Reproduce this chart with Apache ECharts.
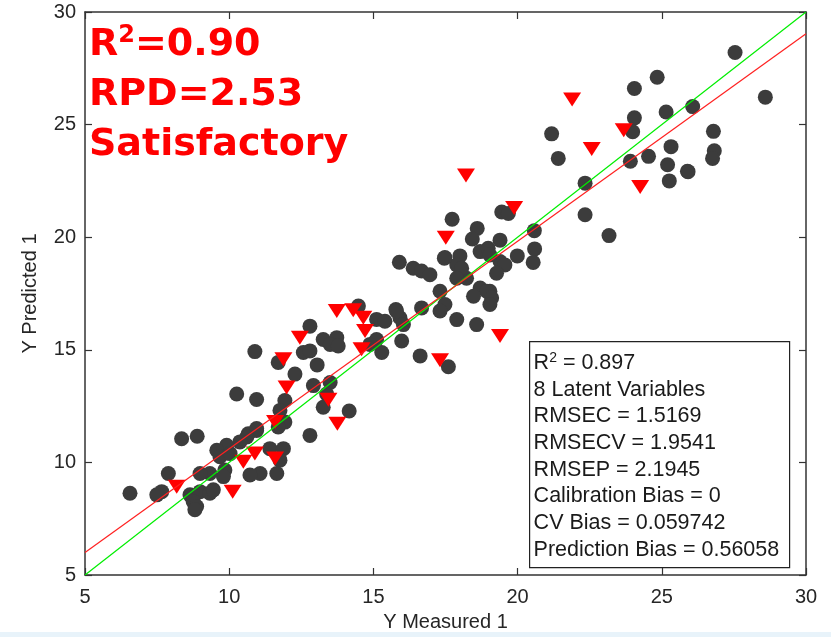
<!DOCTYPE html>
<html>
<head>
<meta charset="utf-8">
<script src="https://cdn.jsdelivr.net/npm/echarts@6/dist/echarts.min.js"></script>
<style>
  html, body { margin: 0; padding: 0; background: #fff; }
  #chart { width: 831px; height: 637px; }
</style>
</head>
<body>
<div id="chart"></div>
<script>
// calibration samples (measured, predicted)
const calibration = [
  [27.54, 28.2], [28.59, 26.22], [26.07, 25.8], [26.79, 24.7], [26.82, 23.84], [26.76, 23.5], [25.91, 22.91],
  [24.05, 26.6], [24.84, 27.1], [25.15, 25.56], [24.05, 25.3], [23.99, 24.68], [21.18, 24.59], [21.41, 23.5],
  [24.54, 23.59], [23.91, 23.37], [25.32, 24.02], [25.2, 23.22], [25.89, 22.93], [25.26, 22.5], [22.34, 22.4],
  [22.34, 21.0], [23.17, 20.07],
  [19.45, 21.12], [19.68, 21.05], [17.73, 20.8], [18.6, 20.39], [18.43, 19.92], [18.7, 19.36], [18.98, 19.51],
  [19.39, 19.87], [20.58, 20.29], [20.59, 19.48], [20.54, 18.88], [19.99, 19.17], [18.0, 19.17], [17.89, 18.77],
  [17.48, 19.1], [19.39, 18.92], [19.56, 18.77], [19.27, 18.4], [19.04, 19.21], [18.23, 18.18], [18.7, 17.74],
  [19.04, 17.6], [18.06, 18.62], [17.89, 18.18],
  [15.9, 18.89], [16.38, 18.62], [16.67, 18.5], [16.96, 18.33], [17.46, 19.07], [17.31, 17.6], [18.93, 17.6],
  [19.1, 17.3], [18.47, 17.38], [19.04, 17.01], [17.48, 17.01], [17.31, 16.72], [16.67, 16.86], [15.78, 16.79],
  [15.92, 16.42], [17.89, 16.34], [18.58, 16.12], [15.98, 15.39], [16.62, 14.73], [17.6, 14.25],
  [14.48, 16.94], [15.11, 16.35], [15.4, 16.27], [15.8, 16.72], [16.04, 16.12], [15.29, 14.88], [15.11, 15.46],
  [14.88, 15.24], [12.8, 16.05], [13.26, 15.46], [13.73, 15.54], [13.5, 15.24], [13.78, 15.17], [12.57, 14.88],
  [12.8, 14.95], [10.89, 14.92], [11.7, 14.44], [13.05, 14.33], [12.28, 13.92], [12.92, 13.41], [13.5, 13.55],
  [13.38, 13.04], [10.26, 13.04], [10.95, 12.79], [11.93, 12.75], [11.76, 12.31], [13.26, 12.45], [14.16, 12.28],
  [11.93, 11.79], [11.7, 11.57], [12.8, 11.2], [10.66, 11.27], [10.95, 11.42],
  [8.35, 11.05], [8.89, 11.16], [10.95, 11.5], [10.61, 11.13], [10.37, 10.91], [9.91, 10.76], [9.57, 10.54],
  [9.68, 10.25], [10.03, 10.39], [11.41, 10.61], [11.88, 10.61], [11.76, 10.1], [11.65, 9.51], [11.07, 9.51],
  [10.72, 9.44], [9.85, 9.66], [9.8, 9.37], [9.33, 9.51], [8.99, 9.51], [7.89, 9.51], [7.66, 8.7], [7.49, 8.56],
  [6.56, 8.63], [8.64, 8.56], [8.99, 8.7], [9.33, 8.63], [8.75, 8.26], [8.87, 8.04], [8.81, 7.9], [9.45, 8.78]
];

// prediction samples
const prediction = [
  [21.89, 26.12], [23.68, 24.75], [22.57, 23.92], [24.25, 22.23], [18.21, 22.74], [19.88, 21.3], [17.51, 19.98],
  [19.39, 15.61], [17.31, 14.54], [13.73, 16.72], [14.3, 16.76], [14.65, 16.42], [14.71, 15.83], [14.59, 15.02],
  [12.45, 15.54], [11.88, 14.58], [11.99, 13.33], [13.44, 12.78], [13.75, 11.72], [11.59, 11.79], [10.89, 10.39],
  [10.49, 10.03], [11.59, 10.17], [8.18, 8.92], [10.12, 8.7]
];

const identityLine = [[5, 5], [30, 30]];
const fitLine = [[5, 6.0], [30, 29.03]];

const axisMin = 5;
const axisMax = 30;
const axisStep = 5;

const statsLines = [
  '{r|R}{sup|2}{r| = 0.897}',
  '8 Latent Variables',
  'RMSEC = 1.5169',
  'RMSECV = 1.9541',
  'RMSEP = 2.1945',
  'Calibration Bias = 0',
  'CV Bias = 0.059742',
  'Prediction Bias = 0.56058'
];

const chart = echarts.init(document.getElementById('chart'));

const axisColor = '#333';
const labelFont = { fontFamily: 'Liberation Sans', fontSize: 20, color: '#262626' };

function frameAxis(position, showLabel) {
  return {
    type: 'value',
    position: position,
    min: axisMin,
    max: axisMax,
    interval: axisStep,
    splitLine: { show: false },
    axisLine: { show: true, onZero: false, lineStyle: { color: axisColor, width: 1.5 } },
    axisTick: { show: true, inside: true, length: 7, lineStyle: { color: axisColor, width: 1.2 } },
    axisLabel: Object.assign({ show: showLabel, margin: 12 }, labelFont)
  };
}

const xBottom = frameAxis('bottom', true);
xBottom.name = 'Y Measured 1';
xBottom.nameLocation = 'middle';
xBottom.nameGap = 37;
xBottom.nameTextStyle = labelFont;

const yLeft = frameAxis('left', true);
yLeft.name = 'Y Predicted 1';
yLeft.nameLocation = 'middle';
yLeft.nameGap = 45;
yLeft.nameTextStyle = labelFont;
yLeft.axisLabel.margin = 9;

const option = {
  backgroundColor: '#fff',
  animation: false,
  grid: { left: 85, right: 25, top: 12, bottom: 58, containLabel: false },
  xAxis: [xBottom, frameAxis('top', false)],
  yAxis: [yLeft, frameAxis('right', false)],
  series: [
    {
      type: 'scatter',
      data: calibration,
      symbol: 'circle',
      symbolSize: 15,
      itemStyle: { color: '#3c3c3c', opacity: 1 },
      z: 2
    },
    {
      type: 'scatter',
      data: prediction,
      symbol: 'triangle',
      symbolRotate: 180,
      symbolSize: [18, 14],
      itemStyle: { color: '#ff0000', opacity: 1 },
      z: 3
    },
    {
      type: 'line',
      data: identityLine,
      symbol: 'none',
      silent: true,
      lineStyle: { color: '#00ee00', width: 1.2 },
      z: 4
    },
    {
      type: 'line',
      data: fitLine,
      symbol: 'none',
      silent: true,
      lineStyle: { color: '#ff2020', width: 1.2 },
      z: 4
    }
  ],
  graphic: [
    {
      type: 'rect',
      left: 0,
      top: 632,
      shape: { width: 831, height: 5 },
      style: { fill: '#e8f3fa' },
      silent: true
    },
    {
      type: 'text',
      left: 89,
      top: 20,
      z: 10,
      style: {
        text: '{b|R}{s|2}{b|=0.90}\n{b|RPD=2.53}\n{b|Satisfactory}',
        rich: {
          b: { fontFamily: 'DejaVu Sans', fontWeight: 'bold', fontSize: 38, fill: '#ff0000', lineHeight: 50 },
          s: { fontFamily: 'DejaVu Sans', fontWeight: 'bold', fontSize: 24, fill: '#ff0000', lineHeight: 50, verticalAlign: 'top', padding: [4, 0, 0, 0] }
        }
      }
    },
    {
      type: 'group',
      left: 529,
      top: 341,
      z: 10,
      children: [
        {
          type: 'rect',
          shape: { x: 0, y: 0, width: 260, height: 226 },
          style: { fill: '#fff', stroke: '#222', lineWidth: 1.2 }
        },
        {
          type: 'text',
          x: 4,
          y: 8,
          style: {
            text: statsLines.join('\n'),
            fontFamily: 'Liberation Sans',
            fontSize: 21.5,
            lineHeight: 26.7,
            fill: '#1a1a1a',
            rich: {
              r: { fontFamily: 'Liberation Sans', fontSize: 21.5, lineHeight: 26.7, fill: '#1a1a1a' },
              sup: { fontFamily: 'Liberation Sans', fontSize: 14, lineHeight: 26.7, fill: '#1a1a1a', verticalAlign: 'top', padding: [2, 0, 0, 0] }
            }
          }
        }
      ]
    }
  ]
};

chart.setOption(option);
</script>
</body>
</html>
